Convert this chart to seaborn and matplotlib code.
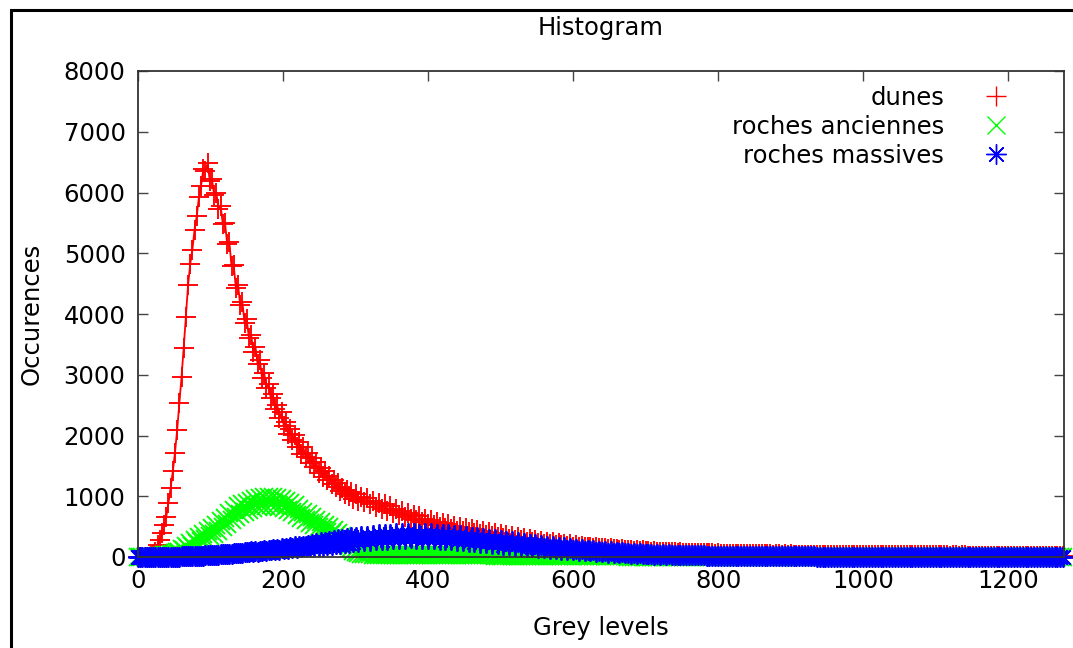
import numpy as np
import pandas as pd
import matplotlib
matplotlib.use("Agg")
import matplotlib.pyplot as plt
from matplotlib.lines import Line2D
from matplotlib.patches import Rectangle
import seaborn as sns

# ---------------- data ----------------
grey_levels = list(range(0, 300, 3)) + list(range(300, 1277, 4))

dunes = [
    # 0 .. 297 (step 3)
    0, 0, 0, 0, 0, 4, 14, 38, 85, 190,
    285, 395, 530, 665, 890, 1140, 1410, 1720, 2090, 2530,
    2960, 3440, 3950, 4470, 4820, 5060, 5390, 5610, 5920, 6110,
    6380, 6360, 6480, 6190, 6220, 5960, 6000, 5730, 5770, 5480,
    5500, 5150, 5180, 4790, 4800, 4430, 4480, 4140, 4190, 3850,
    3910, 3600, 3660, 3380, 3460, 3170, 3240, 2950, 3030, 2790,
    2850, 2620, 2690, 2440, 2510, 2280, 2380, 2160, 2220, 2020,
    2110, 1920, 2010, 1810, 1890, 1700, 1810, 1640, 1720, 1550,
    1630, 1480, 1560, 1390, 1470, 1310, 1410, 1260, 1340, 1200,
    1270, 1150, 1220, 1080, 1140, 1030, 1110, 1000, 1070, 960,
    # 300 .. 1276 (step 4)
    1030, 928, 991, 899, 972, 870, 928, 826, 889, 797,
    865, 762, 834, 731, 788, 685, 749, 658, 727, 631,
    690, 601, 667, 568, 629, 540, 613, 521, 584, 492,
    560, 475, 540, 460, 515, 435, 496, 422, 479, 406,
    463, 390, 447, 374, 426, 358, 415, 347, 394, 326,
    380, 317, 364, 301, 343, 285, 332, 274, 312, 255,
    298, 246, 284, 232, 266, 220, 254, 208, 242, 198,
    229, 190, 219, 181, 206, 171, 196, 164, 187, 157,
    159, 169, 152, 162, 145, 152, 146, 131, 142, 127,
    134, 120, 130, 115, 122, 118, 104, 111, 101, 107,
    94, 101, 90, 97, 86, 90, 89, 78, 83, 76,
    80, 71, 77, 69, 72, 72, 63, 67, 61, 66,
    59, 63, 58, 62, 55, 59, 57, 51, 55, 51,
    53, 48, 52, 47, 50, 49, 45, 48, 44, 47,
    43, 46, 42, 45, 41, 44, 43, 39, 42, 41,
    42, 38, 41, 37, 39, 40, 36, 38, 35, 38,
    35, 37, 34, 36, 33, 35, 35, 32, 34, 33,
    33, 31, 33, 30, 32, 32, 29, 31, 30, 31,
    30, 28, 30, 29, 28, 30, 28, 29, 27, 29,
    28, 26, 28, 27, 26, 28, 27, 25, 27, 26,
    26, 25, 27, 25, 26, 24, 26, 25, 24, 25,
    25, 23, 24, 24, 22, 24, 23, 24, 22, 23,
    23, 22, 23, 21, 23, 22, 22, 21, 22, 21,
    22, 21, 20, 22, 21, 20, 21, 20, 21, 20,
    20, 21, 20, 19, 20,
]

roches_anciennes = [
    # 0 .. 297 (step 3)
    0, 0, 0, 1, 1, 2, 3, 5, 7, 10,
    14, 19, 25, 32, 40, 48, 57, 67, 78, 90,
    130, 108, 178, 145, 227, 184, 276, 223, 325, 260,
    372, 300, 423, 342, 476, 385, 525, 430, 585, 490,
    650, 547, 719, 606, 781, 662, 836, 703, 880, 747,
    890, 770, 926, 800, 952, 822, 970, 837, 982, 845,
    988, 848, 990, 840, 973, 819, 953, 800, 925, 768,
    890, 735, 848, 691, 798, 645, 748, 606, 704, 562,
    655, 525, 615, 490, 570, 450, 527, 419, 488, 392,
    450, 360, 402, 315, 338, 255, 247, 173, 155, 105,
    # 300 .. 1276 (step 4)
    75, 62, 55, 50, 46, 42, 41, 39, 38, 37,
    36, 36, 35, 35, 34, 34, 34, 33, 33, 33,
    32, 32, 32, 32, 31, 31, 31, 31, 30, 30,
    30, 30, 29, 29, 29, 29, 28, 28, 28, 28,
    27, 27, 26, 26, 26, 26, 25, 25, 24, 24,
    24, 24, 23, 23, 22, 22, 22, 22, 21, 21,
    20, 20, 20, 20, 19, 19, 18, 18, 18, 18,
    17, 17, 16, 16, 15, 15, 15, 15, 14, 14,
    13, 13, 12, 12, 12, 12, 11, 11, 10, 10,
    9, 9, 9, 9, 8, 8, 7, 7, 6, 6,
    6, 6, 5, 5, 5, 5, 4, 4, 4, 4,
    3, 3, 3, 3, 3, 3, 2, 2, 2, 2,
    2, 2, 1, 1, 1, 1, 1, 1, 1, 1,
    1, 1, 1, 1, 0, 0, 0, 0, 0, 0,
    0, 0, 0, 0, 0, 0, 0, 0, 0, 0,
    0, 0, 0, 0, 0, 0, 0, 0, 0, 0,
    0, 0, 0, 0, 0, 0, 0, 0, 0, 0,
    0, 0, 0, 0, 0, 0, 0, 0, 0, 0,
    0, 0, 0, 0, 0, 0, 0, 0, 0, 0,
    0, 0, 0, 0, 0, 0, 0, 0, 0, 0,
    0, 0, 0, 0, 0, 0, 0, 0, 0, 0,
    0, 0, 0, 0, 0, 0, 0, 0, 0, 0,
    0, 0, 0, 0, 0, 0, 0, 0, 0, 0,
    0, 0, 0, 0, 0, 0, 0, 0, 0, 0,
    0, 0, 0, 0, 0,
]

roches_massives = [
    # 0 .. 297 (step 3)
    0, 0, 0, 0, 1, 1, 1, 1, 2, 2,
    2, 3, 3, 3, 4, 5, 5, 6, 7, 8,
    9, 10, 12, 13, 15, 16, 18, 19, 21, 23,
    24, 26, 28, 31, 33, 35, 37, 40, 42, 45,
    48, 51, 54, 57, 60, 63, 66, 69, 72, 75,
    86, 75, 94, 82, 97, 86, 106, 97, 110, 101,
    122, 108, 131, 117, 136, 121, 146, 132, 153, 138,
    163, 145, 173, 154, 178, 160, 189, 173, 197, 180,
    215, 179, 229, 184, 243, 188, 253, 198, 268, 203,
    278, 213, 293, 218, 303, 228, 317, 231, 325, 239,
    # 300 .. 1276 (step 4)
    332, 252, 347, 257, 346, 260, 359, 278, 372, 281,
    375, 283, 375, 293, 390, 302, 388, 294, 390, 305,
    396, 301, 385, 294, 388, 302, 390, 293, 374, 281,
    373, 286, 373, 275, 356, 268, 354, 265, 341, 252,
    332, 248, 328, 238, 313, 233, 304, 219, 289, 214,
    278, 203, 267, 197, 256, 186, 241, 176, 231, 166,
    221, 161, 212, 152, 198, 143, 189, 135, 175, 131,
    166, 122, 158, 116, 148, 108, 137, 103, 130, 96,
    122, 92, 114, 85, 106, 80, 98, 74, 91, 68,
    84, 64, 79, 59, 73, 55, 67, 50, 61, 46,
    56, 43, 53, 40, 49, 37, 46, 35, 42, 32,
    36, 33, 34, 31, 32, 31, 28, 29, 27, 27,
    26, 23, 24, 22, 21, 22, 19, 20, 19, 18,
    18, 17, 17, 16, 16, 15, 15, 14, 14, 14,
    13, 13, 13, 12, 12, 12, 11, 11, 11, 11,
    10, 10, 10, 10, 9, 9, 9, 9, 9, 8,
    8, 8, 8, 8, 8, 7, 7, 7, 7, 7,
    7, 7, 7, 6, 6, 6, 6, 6, 6, 6,
    6, 6, 6, 5, 5, 5, 5, 5, 5, 5,
    5, 5, 5, 5, 5, 5, 4, 4, 4, 4,
    4, 4, 4, 4, 4, 4, 4, 4, 4, 4,
    4, 4, 4, 4, 4, 4, 4, 4, 3, 3,
    3, 3, 3, 3, 3, 3, 3, 3, 3, 3,
    3, 3, 3, 3, 3, 3, 3, 3, 3, 3,
    3, 3, 3, 3, 3,
]

series_names = ["dunes", "roches anciennes", "roches massives"]
series_colors = ["#ff0000", "#00ff00", "#0000ff"]
series_markers = ["+", "x", (8, 2, 0)]
series_msize = [14.5, 13.0, 14.5]

x_ticks = [0, 200, 400, 600, 800, 1000, 1200]
y_ticks = [0, 1000, 2000, 3000, 4000, 5000, 6000, 7000, 8000]

# ---------------- figure ----------------
sns.set_style("ticks")
plt.rcParams["font.family"] = ["DejaVu Sans"]
plt.rcParams["text.color"] = "black"
plt.rcParams["axes.labelcolor"] = "black"
plt.rcParams["xtick.labelcolor"] = "black"
plt.rcParams["ytick.labelcolor"] = "black"

FS = 17.5
MEW = 1.35
W, H = 1073, 648
fig = plt.figure(figsize=(W / 100, H / 100), dpi=100)
L, R, T, B = 138, 1064, 71, 557
ax = fig.add_axes([L / W, 1 - B / H, (R - L) / W, (B - T) / H])

for vals, name, col, mk, ms in zip(
    [dunes, roches_anciennes, roches_massives],
    series_names, series_colors, series_markers, series_msize,
):
    df = pd.DataFrame({"grey": grey_levels, "count": vals})
    sns.lineplot(
        data=df, x="grey", y="count", ax=ax, color=col,
        marker=mk, markersize=ms, markeredgewidth=MEW,
        markeredgecolor=col, markerfacecolor=col,
        linewidth=1.3, legend=False, estimator=None, clip_on=False,
    )

ax.set_xlim(0, 1277)
ax.set_ylim(0, 8000)
ax.set_xticks(x_ticks)
ax.set_yticks(y_ticks)
ax.tick_params(direction="in", length=7, width=1.0, color="#444444",
               top=True, right=True, labelsize=FS, pad=9,
               labelcolor="black")
for sp in ax.spines.values():
    sp.set_visible(True)
    sp.set_color("#333333")
    sp.set_linewidth(1.3)

ax.set_xlabel("Grey levels", fontsize=FS, color="black")
ax.xaxis.set_label_coords(0.5, (B - 628) / (B - T))
ax.xaxis.label.set_verticalalignment("center")
ax.set_ylabel("Occurences", fontsize=FS, color="black")
ax.yaxis.set_label_coords((32 - L) / (R - L), 0.5)
ax.yaxis.label.set_verticalalignment("center")
ax.yaxis.label.set_horizontalalignment("center")
ax.set_title("Histogram", fontsize=FS, color="black",
             y=1 + (T - 28) / (B - T), va="center", pad=0)

handles = [
    Line2D([], [], linestyle="none", marker=mk, markersize=ms, markeredgewidth=1.0,
           color=col, markeredgecolor=col)
    for col, mk, ms in zip(series_colors, series_markers, series_msize)
]
leg = ax.legend(handles, series_names, loc="upper right", frameon=False,
                markerfirst=False, fontsize=FS, handlelength=1.71, handletextpad=1.28,
                labelspacing=0.2, borderpad=0, borderaxespad=0,
                bbox_to_anchor=((1017 - L) / (R - L), (B - 86) / (B - T)))
for t in leg.get_texts():
    t.set_color("black")

# outer black border (partially cropped in the reference)
fig.add_artist(Rectangle((10.5 / W, -0.2), 1.5, 1.2 - 10 / H, fill=False,
                         edgecolor="black", linewidth=2.2,
                         transform=fig.transFigure, clip_on=False))

fig.savefig("out.png", dpi=100)
